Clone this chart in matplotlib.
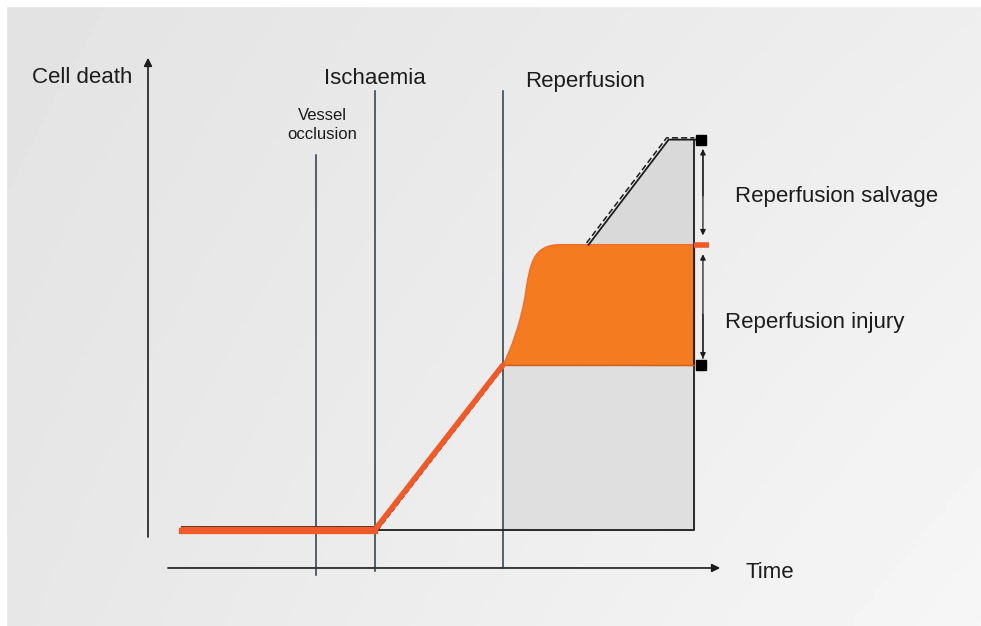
import numpy as np
import matplotlib
matplotlib.use('Agg')
import matplotlib.pyplot as plt
from matplotlib.path import Path
from matplotlib.patches import PathPatch

plt.rcParams['font.family'] = ['Liberation Sans', 'DejaVu Sans']

# --- schematic values (time / cell death, arbitrary units) ---
t_occlusion = 29.4
t_ischaemia = 39.7
t_reperfusion = 62.0
t_end = 95.5

baseline = 7.5
death_at_reperfusion = 39.5
death_with_reperfusion = 63.0
death_without_reperfusion = 83.5

# ischaemic phase (orange line)
base_t = [6.0, t_ischaemia]
base_c = [baseline, baseline]
rise_t = [t_ischaemia, t_reperfusion]
rise_c = [baseline, death_at_reperfusion]

# reperfusion burst: bezier control points (time, cell death)
burst_t = [62.06, 63.3, 65.4, 66.1, 66.8, 67.3, 72.0]
burst_c = [39.57, 42.1, 48.3, 54.2, 59.1, 63.0, 63.0]

# infarct growth without reperfusion
salvage_t = [77.0, 91.0, 96.0]
salvage_c = [63.0, 83.5, 83.5]

fig = plt.figure(figsize=(9.81, 6.26), dpi=100, facecolor='#ebebeb')
ax = fig.add_axes([0, 0, 1, 1])
xmin, xmax = -25.87, 145.6
ymin, ymax = -11.31, 110.72

# background: soft grey gradient, darker top-left
gx, gy = np.meshgrid(np.linspace(0, 1, 200), np.linspace(0, 1, 130))
g = 0.888 + 0.045 * gx + 0.015 * gy + 0.02 * gx * gy
ax.imshow(g, cmap='gray', vmin=0, vmax=1, origin='upper',
          extent=[xmin - 5, xmax + 5, ymin - 5, ymax + 5], aspect='auto', zorder=0)
ax.set_xlim(xmin, xmax)
ax.set_ylim(ymin, ymax)
ax.axis('off')
fig.patches.append(plt.Rectangle((0, 1 - 6 / 626), 1, 6 / 626, transform=fig.transFigure,
                                 color='white', zorder=1))
fig.patches.append(plt.Rectangle((0, 0), 6 / 981, 1, transform=fig.transFigure,
                                 color='white', zorder=1))

ink = '#1c1c1c'
line_col = '#2a3a44'
orange = '#f47b20'
red_orange = '#f05a28'

# axes arrows
ax.annotate('', xy=(0, 100), xytext=(0, 5.5),
            arrowprops=dict(arrowstyle='-|>', color=ink, lw=1.2,
                            mutation_scale=12), zorder=3)
ax.annotate('', xy=(100.5, 0), xytext=(3, 0),
            arrowprops=dict(arrowstyle='-|>', color=ink, lw=1.2,
                            mutation_scale=12), zorder=3)

# event lines
ax.plot([t_occlusion, t_occlusion], [-1.4, 80.5], color=line_col, lw=1.1, zorder=3)
ax.plot([t_ischaemia, t_ischaemia], [-0.5, 93], color=line_col, lw=1.1, zorder=3)
ax.plot([t_reperfusion, t_reperfusion], [0, 93], color=line_col, lw=1.1, zorder=3)

# grey box under reperfusion
ax.fill_between([t_reperfusion, t_end], baseline, death_at_reperfusion,
                color='#dfdfdf', zorder=2)
ax.plot([t_ischaemia, t_end, t_end], [baseline, baseline, death_without_reperfusion],
        color=ink, lw=1.3, zorder=4)

# salvage area
ax.fill(salvage_t[:2] + [t_end, t_end],
        salvage_c[:2] + [death_without_reperfusion, death_with_reperfusion],
        color='#d9d9d9', zorder=2)
ax.plot(salvage_t, salvage_c, color=ink, lw=1.3, zorder=4)
ax.plot([s - 0.35 for s in salvage_t[:2]] + [t_end],
        [c + 0.35 for c in salvage_c[:2]] + [death_without_reperfusion + 0.35],
        color=ink, lw=1.1, ls=(0, (4, 2)), zorder=4)

# orange reperfusion injury area
verts = list(zip(burst_t, burst_c)) + [(t_end, death_with_reperfusion),
                                        (t_end, death_at_reperfusion),
                                        (burst_t[0], burst_c[0])]
codes = [Path.MOVETO] + [Path.CURVE4] * 6 + [Path.LINETO, Path.LINETO, Path.CLOSEPOLY]
ax.add_patch(PathPatch(Path(verts, codes), facecolor=orange, edgecolor='#f0702a',
                       lw=1.2, zorder=3))
ax.plot([t_reperfusion, t_end], [death_at_reperfusion, death_at_reperfusion],
        color='#c8641e', lw=1.0, zorder=4)
ax.plot([95.5, 98.0], [death_with_reperfusion, death_with_reperfusion],
        color=red_orange, lw=4, solid_capstyle='butt', zorder=4)

# baseline and ischaemic rise
ax.plot(base_t, [c + 0.4 for c in base_c], color=ink, lw=1.3, zorder=4)
ax.plot(rise_t, rise_c, color=ink, lw=1.2, zorder=4)
ax.plot([t_ischaemia + 0.5, t_reperfusion], [baseline, death_at_reperfusion - 0.6],
        color=ink, lw=1.1, ls=(0, (3, 2)), zorder=4)
ax.plot(base_t + rise_t[1:], base_c + rise_c[1:], color=red_orange, lw=4,
        solid_capstyle='round', zorder=5)
ax.plot(base_t, [c - 0.2 for c in base_c], color=red_orange, lw=4.5, zorder=5)

# end markers
ax.plot([96.6, 96.6], [death_without_reperfusion, death_at_reperfusion],
        ls='none', marker='s', ms=7, color='black', zorder=6)

# double arrows
arr = dict(arrowstyle='-|>', color=ink, lw=0.9, mutation_scale=8)
ax.annotate('', xy=(97.0, 64.3), xytext=(97.0, 82.0), arrowprops=arr, zorder=5)
ax.annotate('', xy=(97.0, 82.2), xytext=(97.0, 72.0), arrowprops=arr, zorder=5)
ax.annotate('', xy=(97.0, 61.7), xytext=(97.0, 40.3), arrowprops=arr, zorder=5)
ax.annotate('', xy=(97.0, 40.3), xytext=(97.0, 50.0), arrowprops=arr, zorder=5)

# labels
fs = 16
ax.text(-2.8, 95.7, 'Cell death', ha='right', va='center', fontsize=fs, color=ink)
ax.text(t_ischaemia, 95.5, 'Ischaemia', ha='center', va='center', fontsize=fs, color=ink)
ax.text(65.9, 94.9, 'Reperfusion', ha='left', va='center', fontsize=fs, color=ink)
ax.text(30.4, 86.3, 'Vessel\nocclusion', ha='center', va='center', fontsize=12,
        color=ink, linespacing=1.35)
ax.text(102.6, 72.5, 'Reperfusion salvage', ha='left', va='center', fontsize=fs, color=ink)
ax.text(100.9, 47.8, 'Reperfusion injury', ha='left', va='center', fontsize=fs, color=ink)
ax.text(104.4, -0.8, 'Time', ha='left', va='center', fontsize=fs, color=ink)

fig.savefig('out.png', dpi=100, facecolor=fig.get_facecolor())
